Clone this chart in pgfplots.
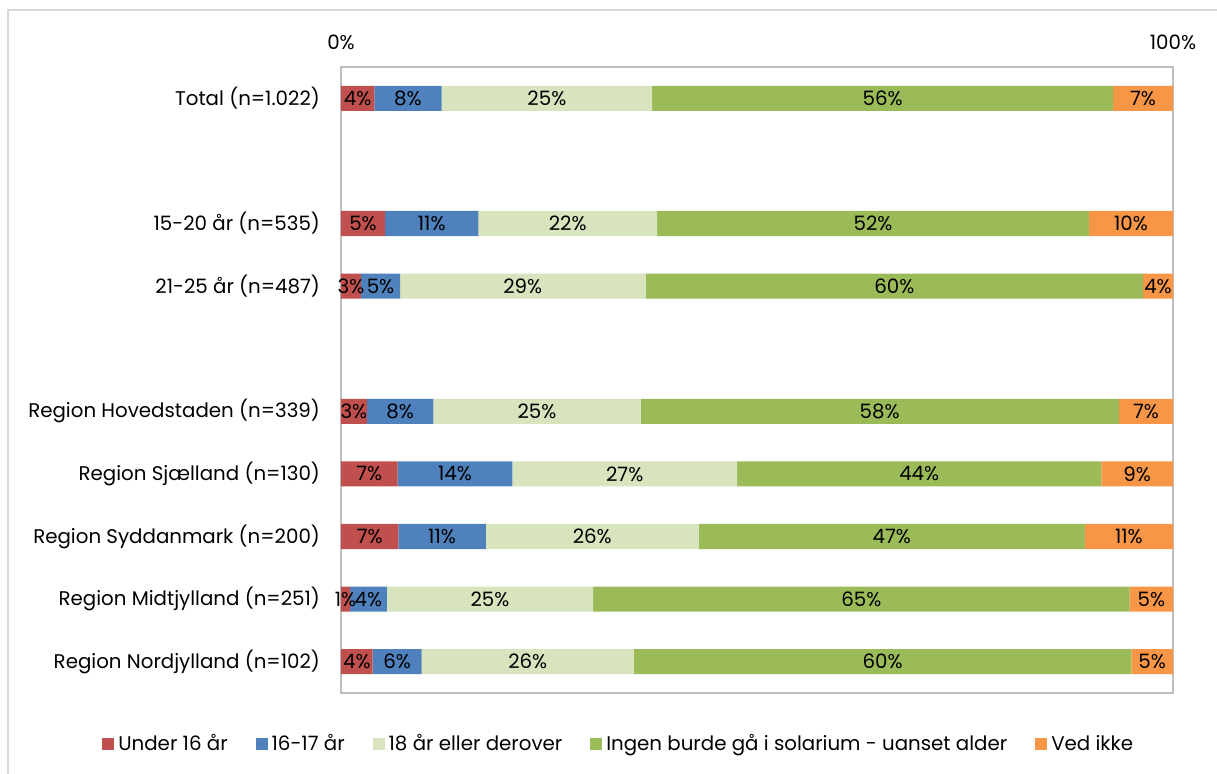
\documentclass[border=0pt]{standalone}
\usepackage{pgfplots}
\pgfplotsset{compat=1.18}
\usepackage{pgfplotstable}
\usepackage{fontspec}
\setmainfont{Poppins}
\definecolor{cRed}{HTML}{C0504D}
\definecolor{cBlue}{HTML}{4F81BD}
\definecolor{cLight}{HTML}{D7E4BD}
\definecolor{cGreen}{HTML}{9BBB59}
\definecolor{cOrange}{HTML}{F79646}
\definecolor{cAxis}{HTML}{BFBFBF}
\definecolor{cBorder}{HTML}{D9D9D9}
\pgfplotstableread{
y a b c d e la lb lc ld le
0 4.0 8.1 25.3 55.4 7.2 4 8 25 56 7
2 5.3 11.2 21.5 51.9 10.1 5 11 22 52 10
3 2.4 4.7 29.5 59.8 3.6 3 5 29 60 4
5 3.1 8.0 24.9 57.5 6.5 3 8 25 58 7
6 6.8 13.8 27.0 43.8 8.6 7 14 27 44 9
7 6.9 10.5 25.6 46.4 10.6 7 11 26 47 11
8 1.1 4.4 24.8 64.5 5.2 1 4 25 65 5
9 3.8 5.9 25.5 59.8 5.0 4 6 26 60 5
}\data
\begin{document}
\begin{tikzpicture}[font=\fontsize{9.9}{11.5}\selectfont]
\useasboundingbox (0,0) rectangle (608.5pt,386.5pt);
\draw[cBorder, line width=0.8pt] (4pt,-10pt) -- (4pt,381.5pt) -- (640pt,381.5pt);
\begin{axis}[
  at={(170.5pt,40pt)}, anchor=south west,
  scale only axis, width=416pt, height=313pt,
  xbar stacked, bar width=0.4,
  xmin=0, xmax=100, ymin=-0.5, ymax=9.5, y dir=reverse,
  xtick={0,100}, xticklabels={0\%,100\%},
  xticklabel pos=upper,
  xticklabel style={yshift=5pt},
  ytick={0,2,3,5,6,7,8,9},
  yticklabels={Total (n=1.022),15-20 år (n=535),21-25 år (n=487),Region Hovedstaden (n=339),Region Sjælland (n=130),Region Syddanmark (n=200),Region Midtjylland (n=251),Region Nordjylland (n=102)},
  yticklabel style={xshift=-7pt},
  major tick length=0pt,
  axis line style={cAxis, line width=0.8pt},
  every axis plot/.append style={draw=none},
  point meta=explicit symbolic,
  nodes near coords={\pgfplotspointmeta\%},
  every node near coord/.append style={anchor=center},
  legend style={at={(0.335,-0.0815)}, anchor=center, draw=none, legend columns=-1,
    /tikz/every even column/.append style={column sep=12pt}},
  legend image code/.code={\fill[#1] (0pt,-3pt) rectangle (6pt,3pt);},
]
\addplot[fill=cRed] table[x=a,y=y,meta=la]{\data};
\addplot[fill=cBlue] table[x=b,y=y,meta=lb]{\data};
\addplot[fill=cLight] table[x=c,y=y,meta=lc]{\data};
\addplot[fill=cGreen] table[x=d,y=y,meta=ld]{\data};
\addplot[fill=cOrange] table[x=e,y=y,meta=le]{\data};
\legend{Under 16 år,16-17 år,18 år eller derover,Ingen burde gå i solarium - uanset alder,Ved ikke}
\end{axis}
\end{tikzpicture}
\end{document}
